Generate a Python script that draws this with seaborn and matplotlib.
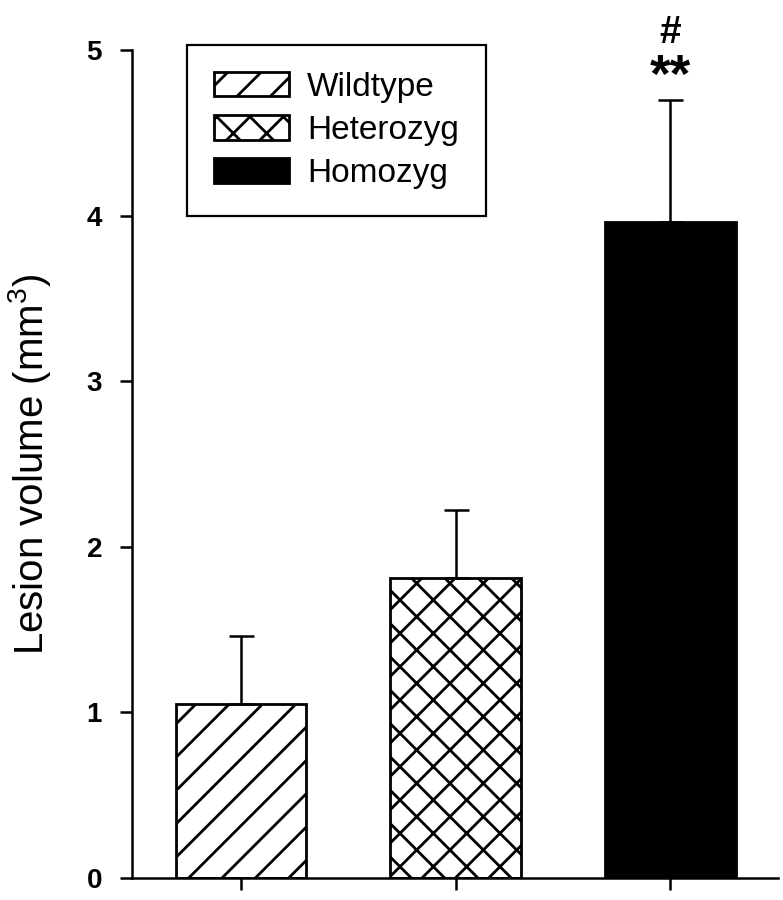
import matplotlib
matplotlib.use('Agg')
import matplotlib.pyplot as plt
import matplotlib.patches as mpatches
import seaborn as sns

# data
groups = ['Wildtype', 'Heterozyg', 'Homozyg']
lesion_mean = [1.05, 1.81, 3.96]
lesion_err = [0.41, 0.41, 0.74]
hatches = ['//', 'xx', '']
fills = ['white', 'white', 'black']
sig_marks = ['', '', '**']
sig_marks2 = ['', '', '#']

sns.set_style('ticks')
plt.rcParams['font.family'] = ['Liberation Sans', 'DejaVu Sans']
plt.rcParams['mathtext.fontset'] = 'custom'
plt.rcParams['mathtext.rm'] = 'Liberation Sans'
plt.rcParams['mathtext.it'] = 'Liberation Sans:italic'
plt.rcParams['mathtext.bf'] = 'Liberation Sans:bold'
plt.rcParams['hatch.linewidth'] = 1.0
plt.rcParams['hatch.color'] = 'black'
for key in ['text.color', 'axes.labelcolor', 'xtick.color', 'ytick.color']:
    plt.rcParams[key] = 'black'

fig = plt.figure(figsize=(3.915, 4.5), dpi=200)
ax = fig.add_axes([0.1686, 0.0244, 0.8250, 0.92])

sns.barplot(x=groups, y=lesion_mean, hue=groups, palette=fills, edgecolor='black',
            linewidth=1.0, width=0.61, legend=False, errorbar=None, ax=ax)
for bar, h in zip(ax.patches, hatches):
    bar.set_hatch(h)

# upper error bars only
ax.errorbar(range(len(groups)), lesion_mean, yerr=[[0] * len(groups), lesion_err],
            fmt='none', ecolor='black', elinewidth=0.9, capsize=4.5, capthick=0.9, zorder=1)

# significance marks
for i, m in enumerate(sig_marks):
    if m:
        ax.text(i, 4.83, m, ha='center', va='center', fontsize=19, fontweight='bold', clip_on=False)
for i, m in enumerate(sig_marks2):
    if m:
        ax.text(i, 5.10, m, ha='center', va='center', fontsize=14, fontweight='bold', clip_on=False)

ax.set_xlim(-0.508, 2.503)
ax.set_ylim(0, 5)
ax.set_yticks([0, 1, 2, 3, 4, 5])
ax.set_yticklabels(['0', '1', '2', '3', '4', '5'], fontsize=10, fontweight='bold')
ax.set_xticks(range(len(groups)))
ax.set_xticklabels([''] * len(groups))
ax.set_xlabel('')
ax.set_ylabel('Lesion volume (mm$^3$)', fontsize=14.5, labelpad=12)
ax.tick_params(axis='both', direction='out', length=4.3, width=0.9, color='black')
ax.tick_params(axis='y', pad=6.5)
for side in ['top', 'right']:
    ax.spines[side].set_visible(False)
for side in ['left', 'bottom']:
    ax.spines[side].set_linewidth(0.9)
    ax.spines[side].set_color('black')

handles = [mpatches.Patch(facecolor=f, edgecolor='black', hatch=h, linewidth=1.0)
           for f, h in zip(fills, hatches)]
leg = ax.legend(handles, groups, loc='upper left', bbox_to_anchor=(187 / 783, 1 - 45 / 900),
                bbox_transform=fig.transFigure, borderaxespad=0, fontsize=12,
                handlelength=2.25, handleheight=0.75, handletextpad=0.55,
                borderpad=0.8, labelspacing=0.37, fancybox=False, framealpha=1,
                edgecolor='black')
leg.get_frame().set_linewidth(0.8)

fig.savefig('out.png', dpi=200)
